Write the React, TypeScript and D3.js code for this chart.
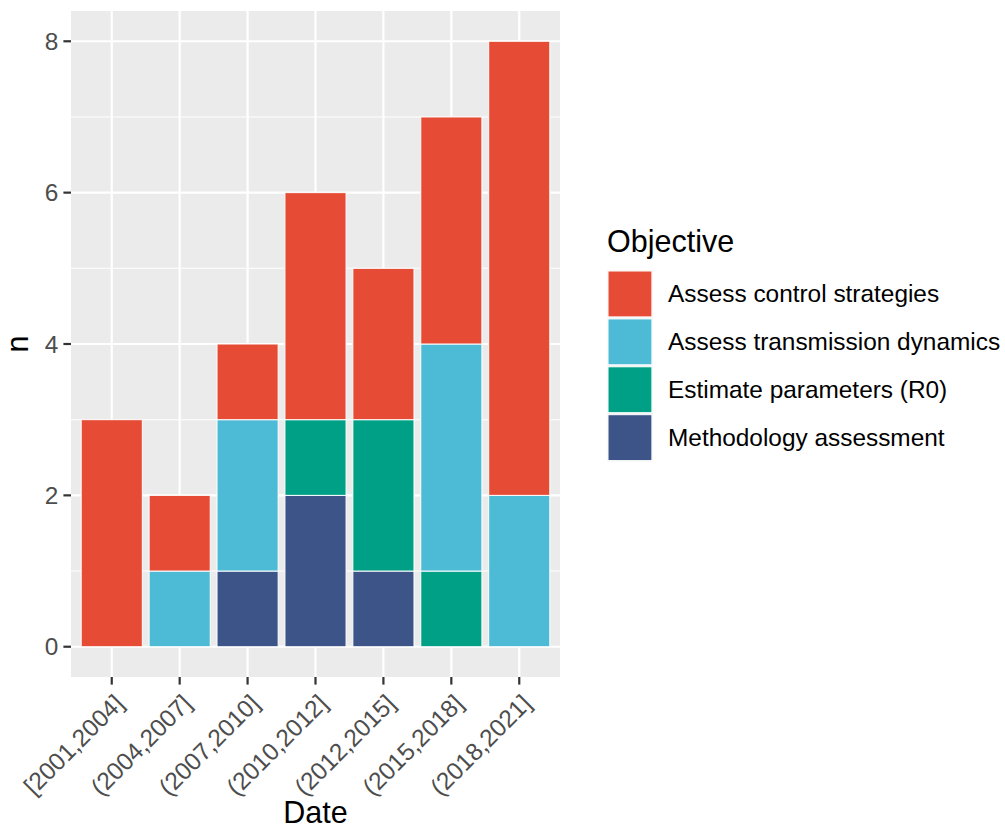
import React from "react";
import * as d3 from "d3";

const categories = ["[2001,2004]", "(2004,2007]", "(2007,2010]", "(2010,2012]", "(2012,2015]", "(2015,2018]", "(2018,2021]"];
const seriesNames = ["Assess control strategies", "Assess transmission dynamics", "Estimate parameters (R0)", "Methodology assessment"];
const seriesColors = ["#E64B35", "#4DBBD5", "#00A087", "#3C5488"];
const controlValues = [3, 1, 1, 3, 2, 3, 6];
const transmissionValues = [0, 1, 2, 0, 0, 3, 2];
const estimateValues = [0, 0, 0, 1, 2, 1, 0];
const methodologyValues = [0, 0, 1, 2, 1, 0, 0];
const yTicks = [0, 2, 4, 6, 8];
const yMinor = [1, 3, 5, 7];

export default function App() {
  const W = 1005, H = 832;
  const L = 71, R = 560, T = 11, B = 677;
  const font = "'Liberation Sans', Arial, Helvetica, sans-serif";
  const x = d3.scaleLinear().domain([0.4, categories.length + 0.6]).range([L, R]);
  const y = d3.scaleLinear().domain([-0.4, 8.4]).range([B, T]);

  const rows = categories.map((c, i) => ({
    cat: c,
    idx: i,
    m: methodologyValues[i],
    e: estimateValues[i],
    t: transmissionValues[i],
    c: controlValues[i],
  }));
  const keys = ["m", "e", "t", "c"];
  const keyColor: Record<string, string> = { c: seriesColors[0], t: seriesColors[1], e: seriesColors[2], m: seriesColors[3] };
  const stacked = d3.stack<any>().keys(keys)(rows);

  const tickFs = 24.4;
  const titleFs = 30.5;
  const tickLen = 7.6;
  const keyH = 47.9;
  const legX = 607, legY0 = 270;

  return (
    <svg width={W} height={H} style={{ position: "absolute", left: 0, top: 0, background: "white" }} fontFamily={font}>
      <rect x={L} y={T} width={R - L} height={B - T} fill="#EBEBEB" />
      {yMinor.map((v) => (
        <line key={"mn" + v} x1={L} x2={R} y1={y(v)} y2={y(v)} stroke="white" strokeWidth={1.1} />
      ))}
      {yTicks.map((v) => (
        <line key={"mj" + v} x1={L} x2={R} y1={y(v)} y2={y(v)} stroke="white" strokeWidth={2.2} />
      ))}
      {categories.map((c, i) => (
        <line key={"vx" + i} x1={x(i + 1)} x2={x(i + 1)} y1={T} y2={B} stroke="white" strokeWidth={2.2} />
      ))}
      {stacked.map((s) =>
        s.map((d, i) =>
          d[1] - d[0] > 0 ? (
            <rect
              key={s.key + i}
              x={x(i + 1 - 0.45)}
              width={x(i + 1 + 0.45) - x(i + 1 - 0.45)}
              y={y(d[1])}
              height={y(d[0]) - y(d[1])}
              fill={keyColor[s.key as string]}
              stroke="white"
              strokeWidth={1}
            />
          ) : null
        )
      )}
      {yTicks.map((v) => (
        <g key={"yt" + v}>
          <line x1={L - tickLen} x2={L} y1={y(v)} y2={y(v)} stroke="#333333" strokeWidth={2.2} />
          <text x={L - tickLen - 5} y={y(v)} dy="0.35em" textAnchor="end" fontSize={tickFs} fill="#4D4D4D">
            {v}
          </text>
        </g>
      ))}
      {categories.map((c, i) => (
        <g key={"xt" + i}>
          <line x1={x(i + 1)} x2={x(i + 1)} y1={B} y2={B + tickLen} stroke="#333333" strokeWidth={2.2} />
          <text
            transform={`translate(${x(i + 1) + 1},${B + tickLen + 8}) rotate(-45)`}
            textAnchor="end"
            dy="0.72em"
            fontSize={tickFs}
            fill="#4D4D4D"
          >
            {c}
          </text>
        </g>
      ))}
      <text x={(L + R) / 2} y={823} textAnchor="middle" fontSize={titleFs} fill="black">
        Date
      </text>
      <text transform={`translate(28,${(T + B) / 2}) rotate(-90)`} textAnchor="middle" fontSize={titleFs} fill="black">
        n
      </text>
      <text x={legX} y={252} fontSize={titleFs} fill="black">
        Objective
      </text>
      {seriesNames.map((n, i) => (
        <g key={"lg" + i}>
          <rect x={legX} y={legY0 + i * keyH} width={keyH - 2} height={keyH} fill="#F2F2F2" />
          <rect x={legX + 1} y={legY0 + i * keyH + 1} width={keyH - 4} height={keyH - 2} fill={seriesColors[i]} stroke="white" strokeWidth={1} />
          <text x={668} y={legY0 + i * keyH + keyH / 2} dy="0.35em" fontSize={tickFs} fill="black">
            {n}
          </text>
        </g>
      ))}
    </svg>
  );
}
